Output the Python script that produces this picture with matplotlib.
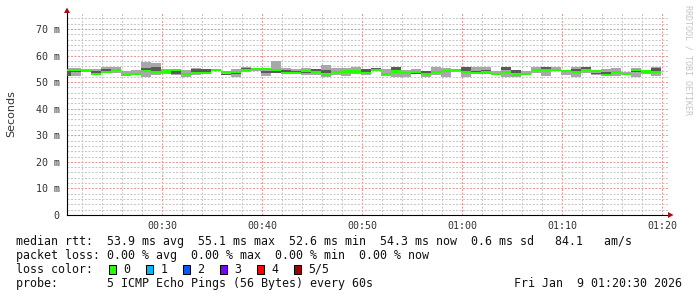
import matplotlib
matplotlib.use("Agg")
import matplotlib.pyplot as plt
import numpy as np
from matplotlib.patches import Rectangle, Polygon

# ---------------- data (ms) ----------------
median = [54.6, 54.6, 54.3, 53.0, 53.9, 54.5, 52.6, 53.0, 54.3, 53.7,
          54.0, 54.5, 53.0, 53.3, 53.3, 54.5, 53.7, 53.7, 54.4, 55.0,
          55.0, 54.7, 53.3, 53.3, 54.3, 53.7, 52.8, 53.9, 54.0, 54.0,
          53.4, 54.5, 53.2, 54.0, 53.5, 53.8, 53.0, 53.8, 54.2, 54.5,
          53.8, 53.3, 53.6, 53.0, 53.8, 52.6, 53.0, 54.4, 54.6, 54.7,
          54.3, 53.8, 54.6, 54.2, 52.6, 53.8, 53.0, 54.4, 54.0, 53.9]
smoke_min = [52.3, 52.3, 53.9, 52.9, 53.3, 53.6, 52.3, 52.6, 52.1, 52.7,
             53.1, 52.8, 52.1, 52.7, 52.9, 54.1, 52.6, 52.1, 53.8, 54.2,
             52.3, 53.5, 53.1, 52.9, 52.7, 52.7, 52.1, 52.7, 52.3, 53.1,
             52.7, 54.0, 52.3, 52.1, 52.1, 53.1, 52.1, 52.7, 52.1, 53.8,
             52.1, 53.0, 53.3, 52.9, 52.1, 52.1, 52.6, 53.6, 52.3, 54.0,
             52.7, 52.1, 53.6, 52.7, 52.3, 52.3, 52.6, 52.1, 53.1, 52.3]
smoke_max = [55.2, 55.2, 54.8, 55.0, 55.5, 55.8, 54.0, 54.6, 57.7, 57.1,
             54.8, 54.9, 54.6, 55.4, 54.9, 54.9, 54.3, 54.9, 55.8, 55.4,
             55.2, 58.0, 55.2, 54.9, 55.2, 54.8, 56.5, 55.2, 55.2, 55.8,
             54.8, 55.2, 54.9, 55.5, 54.6, 54.9, 54.0, 55.5, 55.2, 55.0,
             55.5, 55.5, 55.8, 54.2, 55.5, 54.6, 54.2, 55.5, 55.5, 55.8,
             54.6, 55.8, 55.5, 54.6, 54.9, 55.2, 53.8, 55.2, 54.6, 55.5]
inner_lo = [52.3, 53.9, 54.1, 53.6, 54.3, 54.0, 52.3, 53.0, 54.0, 54.0,
            53.8, 52.9, 52.8, 53.8, 53.8, 54.2, 52.6, 53.1, 54.8, 54.6,
            53.6, 53.5, 53.6, 53.6, 53.5, 54.2, 53.6, 53.7, 53.6, 54.0,
            53.6, 54.8, 53.0, 54.6, 53.3, 53.1, 53.1, 53.6, 54.9, 54.2,
            54.2, 53.6, 54.0, 53.1, 54.6, 53.6, 53.0, 54.0, 54.8, 54.2,
            53.8, 54.2, 54.8, 53.1, 53.1, 53.6, 52.7, 53.8, 53.5, 54.2]
inner_hi = [54.2, 54.6, 54.5, 54.2, 55.0, 54.6, 52.7, 53.6, 55.2, 55.8,
            54.2, 54.2, 53.2, 54.8, 54.8, 54.5, 53.1, 53.3, 55.4, 55.0,
            54.2, 54.2, 54.6, 54.2, 54.0, 54.8, 54.6, 54.2, 54.2, 54.4,
            54.8, 55.2, 53.4, 55.5, 53.6, 53.3, 54.0, 54.0, 55.1, 54.5,
            55.5, 54.0, 54.6, 53.3, 55.5, 54.6, 53.3, 54.3, 55.5, 54.3,
            54.0, 54.8, 55.5, 53.6, 53.7, 54.2, 53.0, 54.0, 53.8, 55.2]

first_bin_start = 20.5      # minutes after midnight (00:20:30)
first_full_bin = 20.9       # start of first full 1-minute bin
x_tick_labels = ["00:30", "00:40", "00:50", "01:00", "01:10", "01:20"]
x_tick_pos = [30, 40, 50, 60, 70, 80]
y_tick_labels = ["0", "10 m", "20 m", "30 m", "40 m", "50 m", "60 m", "70 m"]
y_tick_pos = [0, 10, 20, 30, 40, 50, 60, 70]

loss_labels = ["0", "1", "2", "3", "4", "5/5"]
loss_colors = ["#26ff00", "#00b8ff", "#0059ff", "#7e00ff", "#ff0000", "#a10000"]

legend_lines = [
    "median rtt:  53.9 ms avg  55.1 ms max  52.6 ms min  54.3 ms now  0.6 ms sd   84.1   am/s",
    "packet loss: 0.00 % avg  0.00 % max  0.00 % min  0.00 % now",
    "loss color:",
    "probe:       5 ICMP Echo Pings (56 Bytes) every 60s",
]
stamp = "Fri Jan  9 01:20:30 2026"

# ---------------- figure ----------------
W, H = 697, 297
fig = plt.figure(figsize=(W / 100, H / 100), dpi=100)
fig.patch.set_facecolor("white")

def fx(px):
    return px / W

def fy(py):
    return 1 - py / H

ax = fig.add_axes([fx(67), fy(215), fx(668) - fx(67), fy(13) - fy(215)])
ax.set_xlim(20.5, 80.6)
ax.set_ylim(0, 76)

n = len(median)
left = np.concatenate([[first_bin_start], first_full_bin + np.arange(n - 1)])
right = first_full_bin + np.arange(n)
widths = right - left
med = np.array(median)
lo = np.array(smoke_min)
hi = np.array(smoke_max)
ilo = np.array(inner_lo)
ihi = np.array(inner_hi)

ax.bar(left, hi - lo, bottom=lo, width=widths, align="edge",
       color="#a8a8a8", linewidth=0, zorder=2)
ax.bar(left, ihi - ilo, bottom=ilo, width=widths, align="edge",
       color="#5a5a5a", linewidth=0, zorder=3)
ax.bar(left, 0.8, bottom=med - 0.4, width=widths, align="edge",
       color=loss_colors[0], linewidth=0, zorder=4)

# grid
ax.set_xticks(x_tick_pos)
ax.set_xticklabels(x_tick_labels)
ax.set_xticks([m for m in range(22, 81, 2) if m % 10], minor=True)
ax.set_yticks(y_tick_pos)
ax.set_yticklabels(y_tick_labels)
ax.set_yticks([v for v in range(2, 76, 2) if v % 10], minor=True)
ax.set_axisbelow(True)
dots = (0, (2, 1.5))
ax.grid(which="minor", color="#c8c8c8", linestyle=dots, linewidth=0.72)
ax.grid(which="major", color="#e49a9a", linestyle=dots, linewidth=0.72)
ax.tick_params(which="both", length=0)
ax.tick_params(axis="y", pad=5.2, labelsize=7.2, labelcolor="#333333")
ax.tick_params(axis="x", pad=4.0, labelsize=7.2, labelcolor="#333333")
for lab in ax.get_xticklabels() + ax.get_yticklabels():
    lab.set_family("DejaVu Sans Mono")
for s in ("top", "right"):
    ax.spines[s].set_visible(False)
for s in ("left", "bottom"):
    ax.spines[s].set_color("#000000")
    ax.spines[s].set_linewidth(0.8)

# axis arrows
arrow_c = "#a01010"
fig.patches.append(Polygon([(fx(64), fy(13)), (fx(70), fy(13)), (fx(67), fy(7.5))],
                           closed=True, transform=fig.transFigure, color=arrow_c, lw=0))
fig.patches.append(Polygon([(fx(668), fy(212)), (fx(668), fy(218)), (fx(673.5), fy(215))],
                           closed=True, transform=fig.transFigure, color=arrow_c, lw=0))

# labels
fig.text(fx(11), fy(114), "Seconds", rotation=90, ha="center", va="center",
         family="DejaVu Sans", fontsize=8, color="#333333")
fig.text(fx(688), fy(5), "RRDTOOL / TOBI OETIKER", rotation=-90, ha="center", va="top",
         family="DejaVu Sans Mono", fontsize=6, color="#c4c4c4")

mono = dict(family="DejaVu Sans Mono", fontsize=8.4, color="#111111", va="center")
rows_y = [241.3, 255.3, 269.3, 283.7]
for txt, yy in zip(legend_lines, rows_y):
    fig.text(fx(16), fy(yy), txt, ha="left", **mono)
fig.text(fx(682), fy(rows_y[3]), stamp, ha="right", **mono)

for i, (lab, col) in enumerate(zip(loss_labels, loss_colors)):
    bx = 108.7 + 37 * i
    fig.patches.append(Rectangle((fx(bx), fy(274)), fx(7.5), 9.5 / H,
                                 transform=fig.transFigure, facecolor=col,
                                 edgecolor="#000000", linewidth=0.75))
    fig.text(fx(bx + 14.6), fy(rows_y[2]), lab, ha="left", **mono)

fig.savefig("out.png", dpi=100, facecolor="white")
